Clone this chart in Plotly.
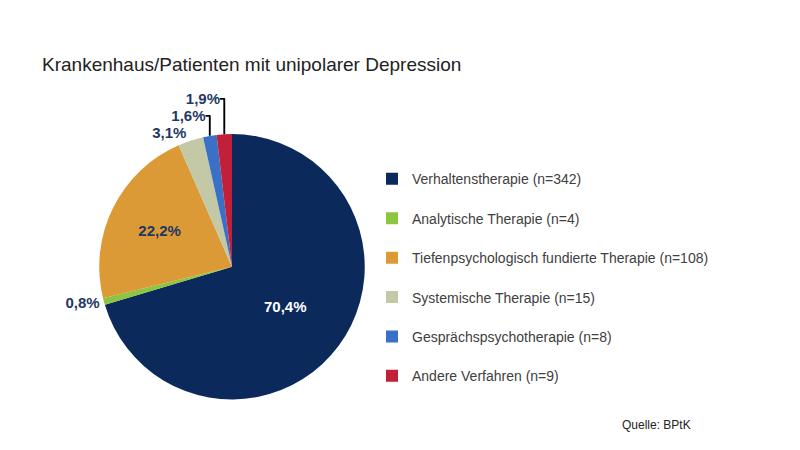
import plotly.graph_objects as go

labels = ["Verhaltenstherapie (n=342)", "Analytische Therapie (n=4)",
          "Tiefenpsychologisch fundierte Therapie (n=108)", "Systemische Therapie (n=15)",
          "Gesprächspsychotherapie (n=8)", "Andere Verfahren (n=9)"]
values = [342, 4, 108, 15, 8, 9]
colors = ["#0b2a5b", "#8cc540", "#dc9a36", "#c3c8a6", "#3a70c6", "#c21f38"]
positions = ["inside", "outside", "inside", "outside", "outside", "outside"]
text_colors = ["white", "#1f3864", "#1f3864", "#1f3864", "#1f3864", "#1f3864"]

fig = go.Figure(go.Pie(
    labels=[l + "<br> " for l in labels],
    values=values,
    sort=False,
    direction="clockwise",
    rotation=0,
    marker=dict(colors=colors),
    textposition=positions,
    texttemplate="<b>%{percent:.1%}</b>",
    textfont=dict(family="Liberation Sans", size=15, color=text_colors),
    insidetextorientation="horizontal",
    domain=dict(x=[0.09, 0.47], y=[0.13, 0.72]),
    hoverinfo="label+value+percent",
))

fig.update_layout(
    width=800, height=450,
    separators=",.",
    paper_bgcolor="white",
    margin=dict(l=0, r=0, t=0, b=0),
    showlegend=True,
    legend=dict(x=0.455, y=0.655, xanchor="left", yanchor="top", valign="top",
                font=dict(family="Liberation Sans", size=14, color="#404040")),
    annotations=[
        dict(text="Krankenhaus/Patienten mit unipolarer Depression", x=0.04, y=0.875,
             xref="paper", yref="paper", xanchor="left", yanchor="middle",
             showarrow=False, font=dict(family="Liberation Sans", size=19, color="#222222")),
        dict(text="Quelle: BPtK", x=0.765, y=0.073, xref="paper", yref="paper",
             xanchor="left", yanchor="middle", showarrow=False,
             font=dict(family="Liberation Sans", size=12, color="#222222")),
    ],
)

fig.write_html("out.html")
